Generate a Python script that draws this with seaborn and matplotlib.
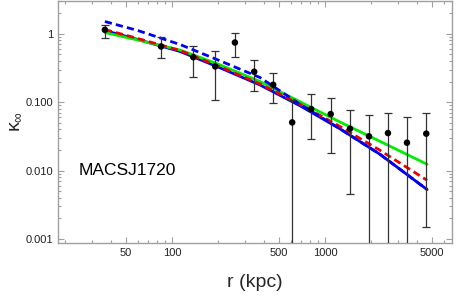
import numpy as np
import pandas as pd
import matplotlib
matplotlib.use("Agg")
import matplotlib.pyplot as plt
import seaborn as sns

# --- data ---
r_obs = [36.5, 85, 138, 192, 258, 345, 459, 611, 813, 1090, 1457, 1940, 2580, 3434, 4590]
k_obs = [1.144, 0.653, 0.455, 0.333, 0.746, 0.279, 0.180, 0.0507, 0.0793, 0.067,
         0.0410, 0.0317, 0.0354, 0.0256, 0.0347]
k_hi = [1.367, 0.90, 0.668, 0.552, 1.034, 0.408, 0.266, 0.106, 0.131, 0.115,
        0.0778, 0.0641, 0.0693, 0.0606, 0.0693]
k_lo = [0.863, 0.447, 0.236, 0.106, 0.455, 0.145, 0.0984, 1e-5, 0.0293, 0.0179,
        0.00461, 1e-5, 1e-5, 1e-5, 0.00150]

r_model = [36.5, 60, 113, 200, 376, 690, 1250, 2290, 4650]
k_green = [1.045, 0.812, 0.580, 0.362, 0.201, 0.101, 0.0515, 0.0268, 0.01236]
k_red = [1.155, 0.854, 0.570, 0.339, 0.185, 0.0929, 0.0443, 0.0198, 0.00721]
k_blue = [1.117, 0.826, 0.552, 0.328, 0.179, 0.0883, 0.0410, 0.0173, 0.00528]
k_blue_dash = [1.513, 1.117, 0.698, 0.415, 0.230, 0.0929, 0.0410, 0.0173, 0.00528]

label = "MACSJ1720"

sns.set_style("ticks")
plt.rcParams['font.family'] = ['Liberation Sans', 'DejaVu Sans']
plt.rcParams['mathtext.fontset'] = 'custom'
plt.rcParams['mathtext.rm'] = 'Liberation Sans'
plt.rcParams['mathtext.it'] = 'Liberation Sans'

fig = plt.figure(figsize=(4.63, 3.03), dpi=100)
ax = fig.add_axes([0.125, 0.199, 0.8506, 0.799])

models = pd.DataFrame({'r': r_model, 'green': k_green, 'red': k_red,
                       'blue': k_blue, 'blue_dash': k_blue_dash})

sns.lineplot(data=models, x='r', y='green', ax=ax, color='#00ee00', lw=2.0, zorder=3)
sns.lineplot(data=models, x='r', y='blue', ax=ax, color='#0000ee', lw=2.0, zorder=2)
sns.lineplot(data=models, x='r', y='red', ax=ax, color='#ee0000', lw=2.0, zorder=4)
ax.lines[-1].set_dashes((2.6, 1.5))
sns.lineplot(data=models, x='r', y='blue_dash', ax=ax, color='#0000ee', lw=2.0, zorder=5)
ax.lines[-1].set_dashes((2.6, 1.5))

k_obs_a = np.array(k_obs)
yerr = [k_obs_a - np.array(k_lo), np.array(k_hi) - k_obs_a]
ax.errorbar(r_obs, k_obs, yerr=yerr, fmt='none', ecolor='#333333', elinewidth=0.9,
            capsize=3.2, capthick=0.9, zorder=6)
sns.scatterplot(x=r_obs, y=k_obs, ax=ax, color='black', s=22, edgecolor='none', zorder=7)

ax.set_xscale('log')
ax.set_yscale('log')
ax.set_xlim(18.0, 6730)
ax.set_ylim(0.000883, 3.06)

ax.set_xticks([50, 100, 500, 1000, 5000])
ax.set_xticklabels(['50', '100', '500', '1000', '5000'])
ax.set_xticks([20, 30, 40, 60, 70, 80, 90, 200, 300, 400, 600, 700, 800, 900,
               2000, 3000, 4000, 6000], minor=True)
ax.set_yticks([0.001, 0.01, 0.1, 1])
ax.set_yticklabels(['0.001', '0.010', '0.100', '1'])
ax.set_yticks([m * 10.0 ** e for e in range(-3, 1) for m in range(2, 10)
               if m * 10.0 ** e < 3.06], minor=True)
ax.xaxis.set_minor_formatter(matplotlib.ticker.NullFormatter())
ax.yaxis.set_minor_formatter(matplotlib.ticker.NullFormatter())

frame = '#a0a0a0'
for s in ax.spines.values():
    s.set_color(frame)
    s.set_linewidth(1.0)
ax.tick_params(which='both', direction='in', top=True, right=True, color=frame,
               labelsize=8, labelcolor='#222222', width=0.8)
ax.tick_params(which='major', length=4)
ax.tick_params(which='minor', length=2)

ax.set_xlabel('r (kpc)', fontsize=14, labelpad=12)
ax.set_ylabel(r'$\kappa_\infty$', fontsize=14, labelpad=2)

ax.text(0.052, 0.297, label, transform=ax.transAxes, fontsize=12.5, color='black',
        va='center', ha='left')

fig.savefig('out.png', dpi=100)
